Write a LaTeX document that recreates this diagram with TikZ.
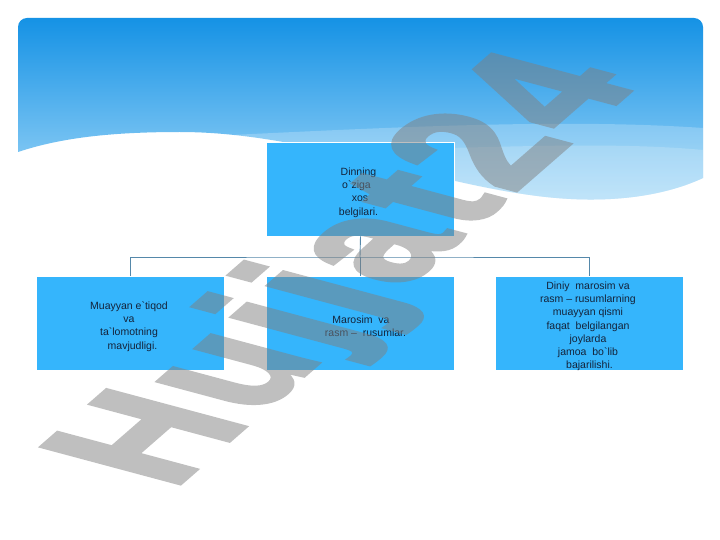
\documentclass[tikz,border=0pt]{standalone}
\usepackage{fontspec}
\newfontfamily\arial{Liberation Sans}
\newfontfamily\wmfont[LetterSpace=5,FakeBold=3]{Liberation Sans Bold}
\definecolor{boxblue}{HTML}{35B5FC}
\definecolor{txt}{HTML}{14233A}
\definecolor{conn}{HTML}{5588AA}
\definecolor{bantop}{HTML}{1592E5}
\definecolor{banbot}{HTML}{A2D8F8}
\tikzset{
  card/.style={draw=white, line width=0.8pt, fill=boxblue, minimum width=188pt, minimum height=94pt, inner sep=0pt},
  lbl/.style={font=\arial\fontsize{10.5}{13.3}\selectfont, text=txt, align=center},
  wire/.style={draw=conn, line width=0.9pt},
}
\begin{document}
\begin{tikzpicture}[x=1pt,y=-1pt]
\useasboundingbox (0,0) rectangle (720,540);
\fill[white] (0,0) rectangle (720,540);
% banner
\shade[top color=bantop, bottom color=banbot]
  (18,152) [rounded corners=9] -- (18,18) -- (703,18) [sharp corners] -- (703,178)
  .. controls (660,198) and (600,205) .. (530,195)
  .. controls (420,180) and (300,132) .. (180,132)
  .. controls (110,132) and (60,138) .. (18,152) -- cycle;
% lighter bands
\fill[white, opacity=0.22]
  (210,136) .. controls (380,128) and (560,118) .. (703,128) -- (703,178)
  .. controls (660,198) and (600,205) .. (530,195)
  .. controls (420,180) and (300,140) .. (210,136) -- cycle;
\fill[white, opacity=0.18]
  (330,150) .. controls (450,150) and (600,140) .. (703,150) -- (703,178)
  .. controls (660,198) and (600,205) .. (530,195)
  .. controls (450,185) and (390,165) .. (330,150) -- cycle;
% boxes
\node[card] (top) at (360.5,189) {};
\node[card] (left) at (130.5,323.5) {};
\node[card] (mid) at (360,323.5) {};
\node[card] (right) at (589,323.5) {};
% connectors
\coordinate (bus) at (360,257);
\draw[wire] (top.south) -- (bus);
\draw[wire] (left.north) |- (bus) -| (right.north);
\draw[wire] (bus) -- (mid.north);
% texts
\node[lbl] (ttop) at (358.5,192.5) {Dinning\\\hspace*{-4pt}o\textasciigrave ziga\\\hspace*{3pt}xos\\belgilari.};
\node[lbl] (tleft) at (129,326.5) {Muayyan e\textasciigrave tiqod\\va\\ta\textasciigrave lomotning\\\hspace*{7pt}mavjudligi.};
\node[lbl] (tmid) at (361,326.5) {Marosim\ \ va\\\hspace*{9pt}rasm \textendash\ \ rusumlar.};
\node[lbl, anchor=north] (tright) at (588,278) {Diniy\ \ marosim va\\rasm \textendash\ rusumlarning\\muayyan qismi\\faqat\ \ belgilangan\\joylarda\\jamoa\ \ bo\textasciigrave lib\\\hspace*{3pt}bajarilishi.};
% watermark
\begin{scope}[shift={(172,490)}, xscale=2.07, yscale=1, transparency group, opacity=0.5]
\node[transform shape, rotate=61, anchor=base west, inner sep=0pt,
      font=\wmfont\fontsize{110}{110}\selectfont, text=gray] (wm) at (0,0) {Hujjat24};
\end{scope}
\end{tikzpicture}
\end{document}
